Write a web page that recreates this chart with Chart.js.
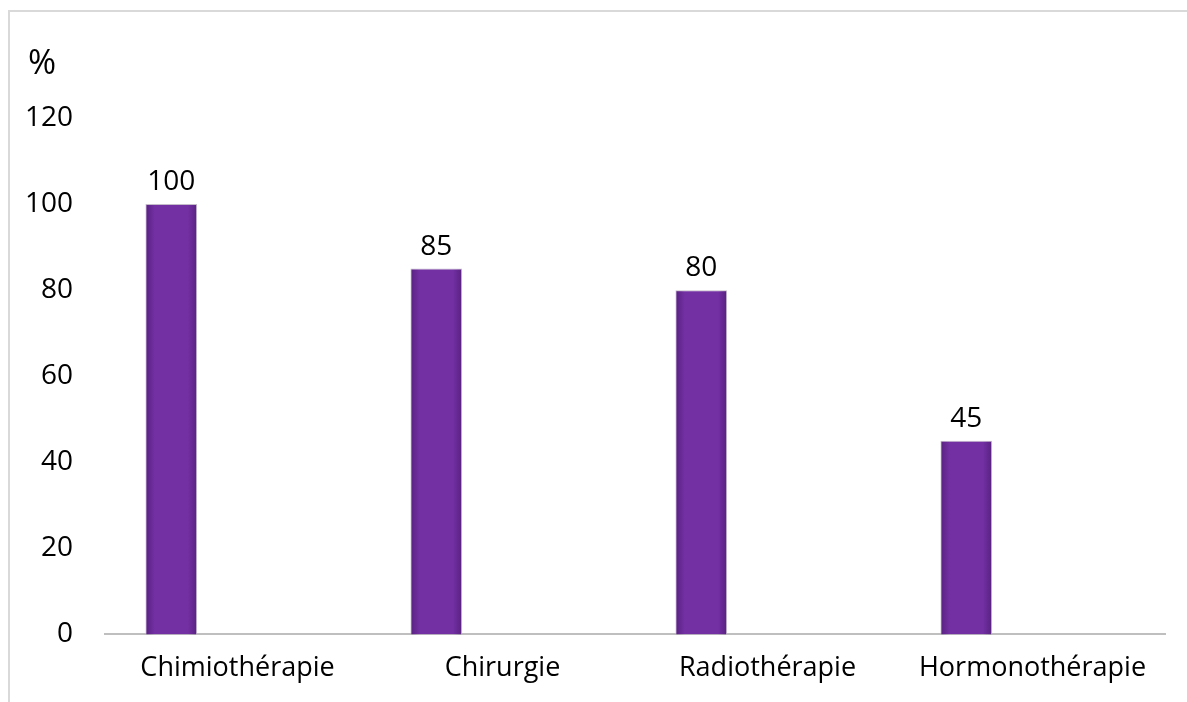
<!DOCTYPE html>
<html>
<head>
<meta charset="utf-8">
<script src="https://cdn.jsdelivr.net/npm/chart.js@4"></script>
<style>
  html, body { margin: 0; padding: 0; background: #fff; }
  #wrap { width: 1187px; height: 702px; }
</style>
</head>
<body>
<div id="wrap"><canvas id="myChart" width="1187" height="702"></canvas></div>
<script>
'use strict'

// Data

let categories = ['Chimiothérapie', 'Chirurgie', 'Radiothérapie', 'Hormonothérapie'];
let percentValues = [100, 85, 80, 45];
let yTicks = [0, 20, 40, 60, 80, 100, 120];
let axisTitle = '%';

let fontFamily = '"Open Sans", "Liberation Sans", sans-serif';

// frame lines round the chart + the % title
const framePlugin = {
  id: 'frame',
  beforeDraw(chart) {
    const ctx = chart.ctx;
    ctx.save();
    ctx.strokeStyle = '#d9d9d9';
    ctx.lineWidth = 2;
    ctx.beginPath();
    ctx.moveTo(9, 702);
    ctx.lineTo(9, 11);
    ctx.lineTo(1187, 11);
    ctx.stroke();
    ctx.fillStyle = '#000';
    ctx.font = '34px ' + fontFamily;
    ctx.textBaseline = 'middle';
    ctx.textAlign = 'left';
    ctx.fillText(axisTitle, 28, 64);
    ctx.restore();
  }
};

// soft shading on bar edges + value labels above each bar
const valuePlugin = {
  id: 'values',
  afterDatasetsDraw(chart) {
    const ctx = chart.ctx;
    const meta = chart.getDatasetMeta(0);
    ctx.save();
    meta.data.forEach(function (bar) {
      const left = bar.x - bar.width / 2;
      const right = bar.x + bar.width / 2;
      const g = ctx.createLinearGradient(left, 0, right, 0);
      g.addColorStop(0, 'rgba(55, 15, 85, 0.45)');
      g.addColorStop(0.18, 'rgba(55, 15, 85, 0)');
      g.addColorStop(0.82, 'rgba(55, 15, 85, 0)');
      g.addColorStop(1, 'rgba(55, 15, 85, 0.45)');
      ctx.fillStyle = g;
      ctx.fillRect(left + 1, bar.y + 1, bar.width - 2, bar.base - bar.y - 1);
    });
    ctx.fillStyle = '#000';
    ctx.font = '28px ' + fontFamily;
    ctx.textAlign = 'center';
    ctx.textBaseline = 'bottom';
    meta.data.forEach(function (bar, i) {
      ctx.fillText(String(percentValues[i]), bar.x, bar.y - 8);
    });
    ctx.restore();
  }
};

const data = {
  labels: categories,
  datasets: [{
    label: 'Pourcentage',
    data: percentValues,
    backgroundColor: '#7330a3',
    borderColor: '#c4bcc9',
    borderWidth: 1,
    barPercentage: 0.39,
    categoryPercentage: 1.0
  },
  {
    label: '',
    data: [],
    barPercentage: 0.39,
    categoryPercentage: 1.0
  }]
};

const config = {
  type: 'bar',
  data: data,
  options: {
    responsive: false,
    animation: false,
    layout: {
      padding: { top: 118, right: 22, bottom: 0, left: -7 }
    },
    plugins: {
      legend: { display: false },
      tooltip: { enabled: false }
    },
    scales: {
      x: {
        grid: { display: false, drawTicks: false },
        border: { display: true, color: '#bfbfbf', width: 2 },
        ticks: {
          color: '#000',
          padding: 23,
          font: { family: fontFamily, size: 27, lineHeight: 0.8 }
        }
      },
      y: {
        min: 0,
        max: 120,
        afterBuildTicks(axis) {
          axis.ticks = yTicks.map(function (v) { return { value: v }; });
        },
        grid: { display: false, drawTicks: false },
        border: { display: false },
        ticks: {
          color: '#000',
          padding: 32,
          font: { family: fontFamily, size: 28 }
        }
      }
    }
  },
  plugins: [framePlugin, valuePlugin]
};

const myChart = new Chart(document.getElementById('myChart'), config);
</script>
</body>
</html>
